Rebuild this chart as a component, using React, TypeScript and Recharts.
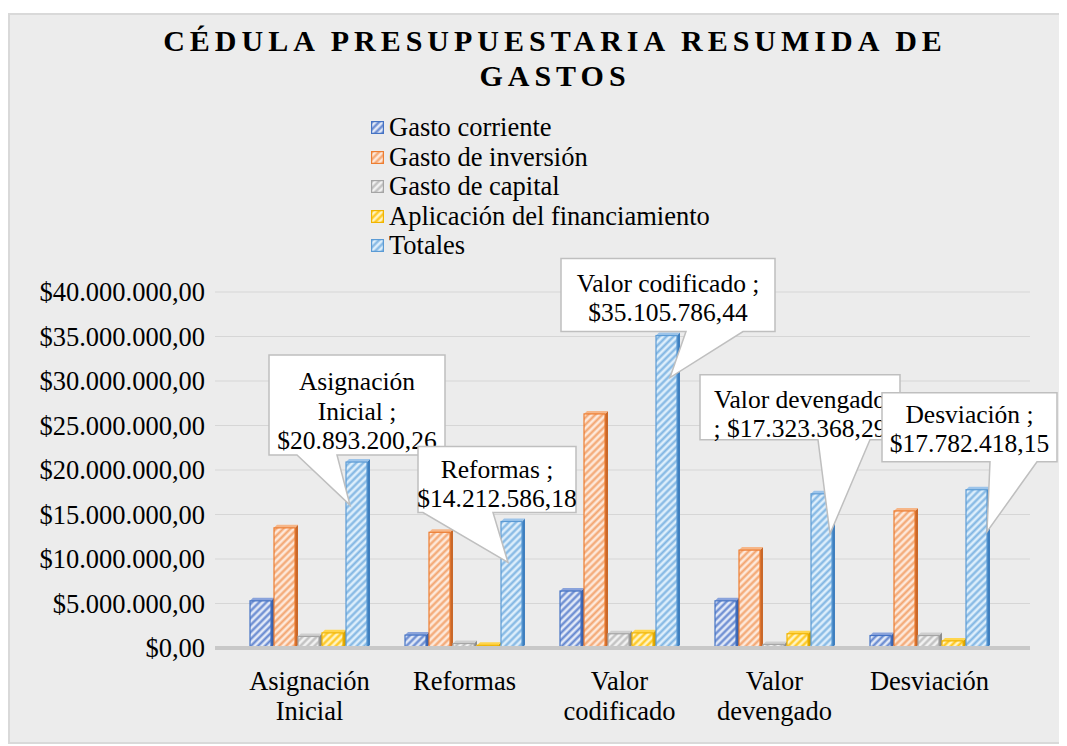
import React from 'react';
import { BarChart, Bar, XAxis, YAxis, CartesianGrid, LabelList } from 'recharts';

const categories = ['Asignación Inicial', 'Reformas', 'Valor codificado', 'Valor devengado', 'Desviación'];
const gastoCorriente = [5300000, 1450000, 6400000, 5300000, 1400000];
const gastoInversion = [13500000, 13000000, 26300000, 11000000, 15400000];
const gastoCapital = [1300000, 500000, 1600000, 400000, 1400000];
const aplicacionFinanciamiento = [1700000, 300000, 1700000, 1600000, 800000];
const totales = [20893200.26, 14212586.18, 35105786.44, 17323368.29, 17782418.15];
const yTicks = [0, 5000000, 10000000, 15000000, 20000000, 25000000, 30000000, 35000000, 40000000];

const seriesNames = ['Gasto corriente', 'Gasto de inversión', 'Gasto de capital', 'Aplicación del financiamiento', 'Totales'];
const seriesKeys = ['corriente', 'inversion', 'capital', 'aplicacion', 'totales'];

const data = categories.map((c, i) => ({
  category: c,
  corriente: gastoCorriente[i],
  inversion: gastoInversion[i],
  capital: gastoCapital[i],
  aplicacion: aplicacionFinanciamiento[i],
  totales: totales[i],
}));

const styles = [
  { bg: '#e2e9f7', stripe: '#6386cf', stroke: '#4472c4', side: '#3a62ad', top: '#8aa3db' },
  { bg: '#fde8da', stripe: '#f3a570', stroke: '#ed7d31', side: '#c9682a', top: '#f6b688' },
  { bg: '#f2f2f2', stripe: '#bdbdbd', stroke: '#a5a5a5', side: '#8c8c8c', top: '#cfcfcf' },
  { bg: '#fff4c2', stripe: '#ffc61a', stroke: '#f0b400', side: '#d9a300', top: '#ffd54d' },
  { bg: '#ddeefb', stripe: '#80b5e3', stroke: '#5b9bd5', side: '#3f7fbf', top: '#9cc4ea' },
];

const FONT = "'Liberation Serif', 'Times New Roman', serif";

function fmtMoney(v: number): string {
  const fixed = v.toFixed(2);
  const [intPart, dec] = fixed.split('.');
  const withDots = intPart.replace(/\B(?=(\d{3})+(?!\d))/g, '.');
  return '$' + withDots + ',' + dec;
}

// callout layout relative to the top-centre of each "Totales" bar
const calloutLayout = [
  { dx: -89, dy: -107, w: 176, h: 100, b1: 28, b2: 68, tdx: -8, tdy: 43, first: 27, mode: 'split' },
  { dx: -95, dy: -75, w: 158, h: 66, b1: 5, b2: 75, tdx: -5, tdy: 41, first: 23, mode: 'normal' },
  { dx: -107, dy: -77, w: 214, h: 73, b1: 125, b2: 182, tdx: 2, tdy: 42, first: 25, mode: 'normal' },
  { dx: -123, dy: -119, w: 200, h: 65, b1: 118, b2: 170, tdx: 7, tdy: 40, first: 25, mode: 'lead' },
  { dx: -96, dy: -97, w: 175, h: 69, b1: 108, b2: 155, tdx: 9, tdy: 42, first: 22, mode: 'normal' },
];

function calloutLines(i: number): string[] {
  const name = categories[i];
  const val = fmtMoney(totales[i]);
  const mode = calloutLayout[i].mode;
  if (mode === 'split') {
    const parts = name.split(' ');
    return [...parts.slice(0, -1), parts[parts.length - 1] + ' ;', val];
  }
  if (mode === 'lead') return [name, '; ' + val];
  return [name + ' ;', val];
}

const renderCallout = (props: any) => {
  const vb = props.viewBox || {};
  const x = props.x ?? vb.x;
  const y = props.y ?? vb.y;
  const width = props.width ?? vb.width;
  const index = props.index;
  if (x == null || index == null) return null;
  const L = calloutLayout[index];
  const cx = x + width / 2;
  const bx = cx + L.dx;
  const by = y + L.dy;
  const tx = cx + L.tdx;
  const ty = y + L.tdy;
  const d = `M${bx},${by} H${bx + L.w} V${by + L.h} H${bx + L.b2} L${tx},${ty} L${bx + L.b1},${by + L.h} H${bx} Z`;
  const lines = calloutLines(index);
  return (
    <g key={'callout' + index}>
      <path d={d} fill="#ffffff" stroke="#bfbfbf" strokeWidth={1.5} />
      {lines.map((ln, k) => (
        <text key={k} x={bx + L.w / 2} y={by + L.first + k * 29.5 + 8} textAnchor="middle" fontFamily={FONT} fontSize={25.5} fill="#000">
          {ln}
        </text>
      ))}
    </g>
  );
};

const makeShape = (si: number) => (props: any) => {
  const { x, y, width, height } = props;
  if (!height || height <= 0) return <g />;
  const s = styles[si];
  const dd = 3;
  const w = width - dd;
  return (
    <g>
      <polygon points={`${x + w},${y} ${x + w + dd},${y - dd} ${x + w + dd},${y + height - dd} ${x + w},${y + height}`} fill={s.side} />
      <polygon points={`${x},${y} ${x + dd},${y - dd} ${x + w + dd},${y - dd} ${x + w},${y}`} fill={s.top} />
      <rect x={x} y={y} width={w} height={height} fill={`url(#pat${si})`} stroke={s.stroke} strokeWidth={1.2} />
    </g>
  );
};

const XTick = (props: any) => {
  const { x, y, payload } = props;
  const words = String(payload.value).split(' ');
  return (
    <text x={x} y={y} textAnchor="middle" fontFamily={FONT} fontSize={26.5} fill="#000">
      {words.map((w, i) => (
        <tspan key={i} x={x} y={y + 42 + i * 30}>
          {w}
        </tspan>
      ))}
    </text>
  );
};

export default function App() {
  return (
    <div
      style={{
        marginTop: 5,
        width: 1055,
        height: 731,
        boxSizing: 'border-box',
        border: '2px solid #d9d9d9',
        background: '#ececec',
        position: 'relative',
        fontFamily: FONT,
      }}
    >
      <svg width={0} height={0} style={{ position: 'absolute' }}>
        <defs>
          {styles.map((s, i) => (
            <pattern key={i} id={`pat${i}`} patternUnits="userSpaceOnUse" width={5} height={5} patternTransform="rotate(45)">
              <rect width={5} height={5} fill={s.bg} />
              <line x1={1.5} y1={0} x2={1.5} y2={5} stroke={s.stripe} strokeWidth={2.2} />
            </pattern>
          ))}
        </defs>
      </svg>

      <div
        style={{
          position: 'absolute',
          left: 545,
          top: 8,
          transform: 'translateX(-50%)',
          textAlign: 'center',
          fontWeight: 'bold',
          fontSize: 30,
          letterSpacing: 5,
          lineHeight: '35px',
          whiteSpace: 'nowrap',
          color: '#000',
        }}
      >
        <div>CÉDULA PRESUPUESTARIA RESUMIDA DE</div>
        <div>GASTOS</div>
      </div>

      <div style={{ position: 'absolute', left: 361, top: 98, fontSize: 26.5, lineHeight: '29.5px', color: '#000' }}>
        {seriesNames.map((n, i) => (
          <div key={n} style={{ display: 'flex', alignItems: 'center', whiteSpace: 'nowrap' }}>
            <svg width={13} height={13} style={{ marginRight: 5 }}>
              <rect x={0.6} y={0.6} width={11.8} height={11.8} fill={`url(#pat${i})`} stroke={styles[i].stroke} strokeWidth={1.2} />
            </svg>
            <span>{n}</span>
          </div>
        ))}
      </div>

      <div style={{ position: 'absolute', left: 0, top: 0 }}>
        <BarChart width={1051} height={727} data={data} margin={{ top: 277, right: 31, bottom: 0, left: 5 }} barGap={0} barSize={24}>
          <CartesianGrid vertical={false} stroke="#d6d6d6" strokeWidth={1.2} />
          <XAxis
            dataKey="category"
            tick={<XTick />}
            tickLine={false}
            tickSize={0}
            tickMargin={0}
            height={94}
            interval={0}
            padding={{ left: 17, right: 23 }}
            axisLine={{ stroke: '#c8c8c8', strokeWidth: 4 }}
          />
          <YAxis
            width={200}
            domain={[0, 40000000]}
            ticks={yTicks}
            tickFormatter={(v: number) => fmtMoney(v)}
            tickLine={false}
            axisLine={false}
            tickSize={0}
            tickMargin={10}
            tick={{ fontFamily: FONT, fontSize: 26.5, fill: '#000' }}
            interval={0}
          />
          {seriesKeys.map((k, i) => (
            <Bar key={k} dataKey={k} name={seriesNames[i]} isAnimationActive={false} shape={makeShape(i)}>
              {i === 4 ? <LabelList dataKey="totales" content={renderCallout} /> : null}
            </Bar>
          ))}
        </BarChart>
      </div>
    </div>
  );
}
